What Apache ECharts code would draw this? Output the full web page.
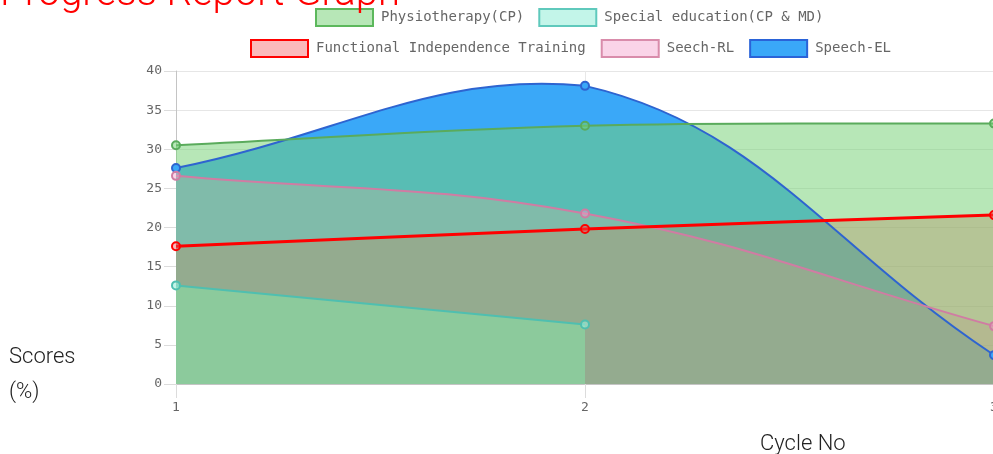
<!DOCTYPE html>
<html>
<head>
<meta charset="utf-8">
<script src="https://cdn.jsdelivr.net/npm/echarts@6/dist/echarts.min.js"></script>
<style>
html,body{margin:0;padding:0;background:#fff;}
#c{width:993px;height:454px;}
</style>
</head>
<body>
<div id="c"></div>
<script>
// ---- data ----
const categories = ['1', '2', '3'];
const seriesNames = ['Physiotherapy(CP)', 'Special education(CP & MD)', 'Functional Independence Training', 'Seech-RL', 'Speech-EL'];
const physio = [30.5, 33.0, 33.3];
const specialEd = [12.6, 7.6, null];
const functional = [17.6, 19.8, 21.6];
const seechRL = [26.6, 21.8, 7.4];
const speechEL = [27.6, 38.1, 3.7];
const yMin = 0, yMax = 40, yStep = 5;
const titleText = 'Progress Report Graph';
const yTitleLines = ['Scores', '(%)'];
const xTitle = 'Cycle No';

// ---- styles ----
const styles = {
  'Physiotherapy(CP)': {line: '#5aab5c', fill: 'rgba(117,209,117,0.52)', box: '#5cb85c', w: 2},
  'Special education(CP & MD)': {line: '#4fbfb0', fill: 'rgba(155,238,218,0.6)', box: '#5fc9bc', w: 2},
  'Functional Independence Training': {line: '#ff0000', fill: 'rgba(245,80,84,0.4)', box: '#ff0000', w: 3},
  'Seech-RL': {line: '#d07ca3', fill: 'rgba(245,160,205,0.45)', box: '#d98cab', w: 2},
  'Speech-EL': {line: '#2e64d0', fill: 'rgba(58,168,248,1)', box: '#2a63d8', w: 2}
};
const dataMap = {
  'Physiotherapy(CP)': physio,
  'Special education(CP & MD)': specialEd,
  'Functional Independence Training': functional,
  'Seech-RL': seechRL,
  'Speech-EL': speechEL
};
const drawOrder = seriesNames.slice().reverse();
const TENSION = 0.4;

// Spline through points (tension-based, control points capped to plot area)
function segmentsOf(values, api) {
  const segs = [];
  let cur = [];
  values.forEach((v, i) => {
    if (v === null || v === undefined) { if (cur.length) segs.push(cur); cur = []; }
    else cur.push(api.coord([i, v]));
  });
  if (cur.length) segs.push(cur);
  return segs;
}
function splinePath(pts, area) {
  const cap = (p) => [Math.min(Math.max(p[0], area.x), area.x + area.width),
                      Math.min(Math.max(p[1], area.y), area.y + area.height)];
  const cps = pts.map((cur, i) => {
    const prev = pts[i - 1] || cur, next = pts[i + 1] || cur;
    const d01 = Math.hypot(cur[0] - prev[0], cur[1] - prev[1]);
    const d12 = Math.hypot(next[0] - cur[0], next[1] - cur[1]);
    let s01 = d01 / (d01 + d12), s12 = d12 / (d01 + d12);
    if (isNaN(s01)) s01 = 0; if (isNaN(s12)) s12 = 0;
    const fa = TENSION * s01, fb = TENSION * s12;
    const dx = next[0] - prev[0], dy = next[1] - prev[1];
    return {prev: cap([cur[0] - fa * dx, cur[1] - fa * dy]), next: cap([cur[0] + fb * dx, cur[1] + fb * dy])};
  });
  let d = 'M' + pts[0][0] + ' ' + pts[0][1];
  for (let i = 1; i < pts.length; i++) {
    const a = cps[i - 1].next, b = cps[i].prev;
    d += ' C' + a[0] + ' ' + a[1] + ' ' + b[0] + ' ' + b[1] + ' ' + pts[i][0] + ' ' + pts[i][1];
  }
  return d;
}

function areaSeries(n) {
  const s = styles[n], vals = dataMap[n];
  return {
    name: n, type: 'custom', coordinateSystem: 'cartesian2d', z: 2, silent: true,
    data: vals.map((v, i) => [i, v === null ? 0 : v]),
    renderItem: function (params, api) {
      if (params.dataIndex !== 0) return null;
      const area = params.coordSys;
      const baseY = api.coord([0, 0])[1];
      const children = segmentsOf(vals, api).map(seg => ({
        type: 'path',
        shape: {pathData: splinePath(seg, area) + ' L' + seg[seg.length - 1][0] + ' ' + baseY + ' L' + seg[0][0] + ' ' + baseY + ' Z'},
        style: {fill: s.fill, stroke: null}
      }));
      return {type: 'group', children: children};
    }
  };
}
function lineSeries(n) {
  const s = styles[n], vals = dataMap[n];
  return {
    name: n, type: 'custom', coordinateSystem: 'cartesian2d', z: 3,
    data: vals.map((v, i) => [i, v === null ? 0 : v]),
    renderItem: function (params, api) {
      if (params.dataIndex !== 0) return null;
      const area = params.coordSys;
      const children = [];
      segmentsOf(vals, api).forEach(seg => {
        children.push({type: 'path', shape: {pathData: splinePath(seg, area)},
          style: {fill: null, stroke: s.line, lineWidth: s.w}});
      });
      vals.forEach((v, i) => {
        if (v === null) return;
        const p = api.coord([i, v]);
        children.push({type: 'circle', shape: {cx: p[0], cy: p[1], r: 4},
          style: {fill: s.fill, stroke: s.line, lineWidth: 2}});
      });
      return {type: 'group', children: children};
    }
  };
}

const series = drawOrder.map(areaSeries).concat(drawOrder.map(lineSeries));

function legendItems(names) {
  return names.map(n => ({
    name: n, icon: 'rect',
    itemStyle: {color: styles[n].fill, borderColor: styles[n].box, borderWidth: 2}
  }));
}
const legendText = {fontFamily: 'DejaVu Sans Mono', fontSize: 14, color: '#666', padding: [0, 0, 0, 3]};

const chart = echarts.init(document.getElementById('c'), null, {renderer: 'canvas'});
chart.setOption({
  animation: false,
  backgroundColor: '#fff',
  title: {
    text: titleText, left: 0, top: -25, padding: 0,
    textStyle: {color: '#ff0000', fontFamily: 'Roboto', fontWeight: 300, fontSize: 40}
  },
  legend: [
    {data: legendItems(seriesNames.slice(0, 2)), left: 315, top: 8, padding: 0,
     itemWidth: 57, itemHeight: 17, itemGap: 14, textStyle: legendText, selectedMode: false},
    {data: legendItems(seriesNames.slice(2)), left: 250, top: 39, padding: 0,
     itemWidth: 57, itemHeight: 17, itemGap: 15, textStyle: legendText, selectedMode: false}
  ],
  grid: {left: 176, top: 71, width: 818, height: 313, containLabel: false, outerBoundsMode: 'none'},
  xAxis: {
    type: 'category', data: categories, boundaryGap: false,
    axisLine: {show: true, lineStyle: {color: '#c4c4c4', width: 1}},
    axisTick: {show: true, length: 14, lineStyle: {color: '#dcdcdc'}},
    axisLabel: {color: '#666', fontFamily: 'DejaVu Sans Mono', fontSize: 13, margin: 17},
    splitLine: {show: true, lineStyle: {color: '#e8e8e8'}}
  },
  yAxis: {
    type: 'value', min: yMin, max: yMax, interval: yStep,
    axisLine: {show: true, lineStyle: {color: '#c4c4c4'}},
    axisTick: {show: true, length: 12, lineStyle: {color: '#dcdcdc'}},
    axisLabel: {color: '#666', fontFamily: 'DejaVu Sans Mono', fontSize: 13, margin: 14},
    splitLine: {show: true, lineStyle: {color: '#e6e6e6'}}
  },
  graphic: [
    {type: 'text', left: 9, top: 346, style: {text: yTitleLines[0], font: '300 22px Roboto', fill: '#222'}},
    {type: 'text', left: 9, top: 381, style: {text: yTitleLines[1], font: '300 22px Roboto', fill: '#222'}},
    {type: 'text', left: 760, top: 433, style: {text: xTitle, font: '300 22px Roboto', fill: '#222'}}
  ],
  series: series
});
</script>
</body>
</html>
